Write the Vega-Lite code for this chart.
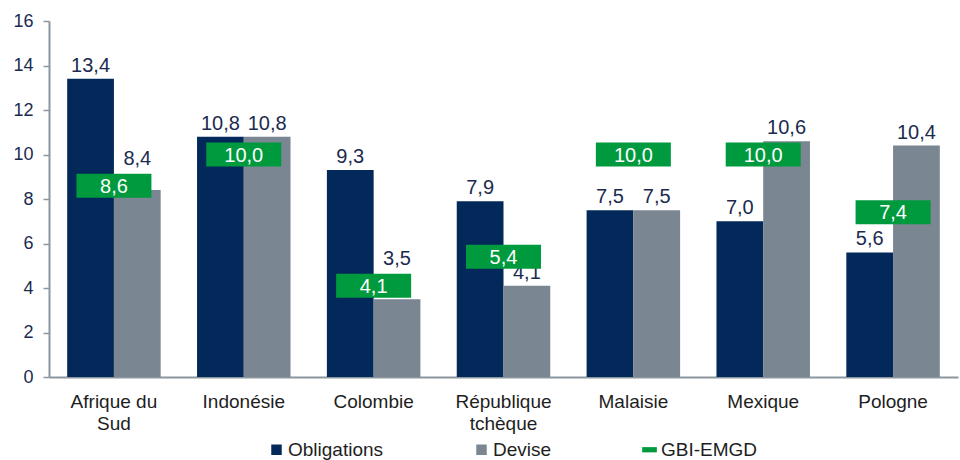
{
  "$schema": "https://vega.github.io/schema/vega-lite/v6.json",
  "width": 909,
  "height": 356,
  "autosize": {"type": "none"},
  "padding": {"left": 49, "top": 21, "right": 2, "bottom": 83},
  "background": "white",
  "config": {
    "locale": {"number": {"decimal": ",", "thousands": " ", "grouping": [3], "currency": ["", " €"]}},
    "font": "Liberation Sans",
    "view": {"stroke": null}
  },
  "data": {
    "values": [
      {"pays": "Afrique du Sud", "serie": "Obligations", "valeur": 13.4},
      {"pays": "Afrique du Sud", "serie": "Devise", "valeur": 8.4},
      {"pays": "Afrique du Sud", "serie": "GBI-EMGD", "valeur": 8.6},
      {"pays": "Indonésie", "serie": "Obligations", "valeur": 10.8},
      {"pays": "Indonésie", "serie": "Devise", "valeur": 10.8},
      {"pays": "Indonésie", "serie": "GBI-EMGD", "valeur": 10.0},
      {"pays": "Colombie", "serie": "Obligations", "valeur": 9.3},
      {"pays": "Colombie", "serie": "Devise", "valeur": 3.5},
      {"pays": "Colombie", "serie": "GBI-EMGD", "valeur": 4.1},
      {"pays": "République tchèque", "serie": "Obligations", "valeur": 7.9},
      {"pays": "République tchèque", "serie": "Devise", "valeur": 4.1},
      {"pays": "République tchèque", "serie": "GBI-EMGD", "valeur": 5.4},
      {"pays": "Malaisie", "serie": "Obligations", "valeur": 7.5},
      {"pays": "Malaisie", "serie": "Devise", "valeur": 7.5},
      {"pays": "Malaisie", "serie": "GBI-EMGD", "valeur": 10.0},
      {"pays": "Mexique", "serie": "Obligations", "valeur": 7.0},
      {"pays": "Mexique", "serie": "Devise", "valeur": 10.6},
      {"pays": "Mexique", "serie": "GBI-EMGD", "valeur": 10.0},
      {"pays": "Pologne", "serie": "Obligations", "valeur": 5.6},
      {"pays": "Pologne", "serie": "Devise", "valeur": 10.4},
      {"pays": "Pologne", "serie": "GBI-EMGD", "valeur": 7.4}
    ]
  },
  "encoding": {
    "x": {
      "field": "pays", "type": "nominal", "sort": null,
      "scale": {"paddingInner": 0.28, "paddingOuter": 0.14},
      "axis": {
        "title": null, "labelAngle": 0, "ticks": false,
        "domainColor": "#8C969F", "domainWidth": 2,
        "labelFontSize": 19, "labelColor": "#1E1E1E", "labelPadding": 15,
        "labelLineHeight": 22,
        "labelExpr": "datum.value == 'Afrique du Sud' ? ['Afrique du', 'Sud'] : datum.value == 'République tchèque' ? ['République', 'tchèque'] : datum.value"
      }
    },
    "y": {
      "field": "valeur", "type": "quantitative",
      "scale": {"domain": [0, 16], "nice": false},
      "axis": {
        "title": null, "grid": false, "values": [0, 2, 4, 6, 8, 10, 12, 14, 16],
        "format": "d",
        "domainColor": "#8C969F", "domainWidth": 2,
        "tickColor": "#8C969F", "tickSize": 6, "tickWidth": 1.5,
        "labelFontSize": 18, "labelColor": "#1B2B4F", "labelPadding": 10
      }
    }
  },
  "layer": [
    {
      "transform": [{"filter": "datum.serie != 'GBI-EMGD'"}],
      "mark": {"type": "bar"},
      "encoding": {
        "xOffset": {"field": "serie", "type": "nominal", "sort": ["Obligations", "Devise"]},
        "color": {
          "field": "serie", "type": "nominal",
          "scale": {"domain": ["Obligations", "Devise", "GBI-EMGD"], "range": ["#03285A", "#7A8691", "#009A3E"]},
          "legend": {
            "title": null, "orient": "none", "direction": "horizontal",
            "legendX": 218, "legendY": 419,
            "symbolType": "square", "symbolSize": 110, "symbolStrokeWidth": 0,
            "labelFontSize": 19, "labelColor": "#1E1E1E", "labelOffset": 2,
            "columnPadding": 88,
            "encode": {
              "symbols": {
                "update": {
                  "shape": {"signal": "datum.value === 'GBI-EMGD' ? 'M-1.4,-0.5H1.4V0.5H-1.4Z' : 'square'"}
                }
              }
            }
          }
        }
      }
    },
    {
      "transform": [
        {"calculate": "datum.serie == 'GBI-EMGD' ? datum.valeur : null", "as": "gbi_v"},
        {"joinaggregate": [{"op": "max", "field": "gbi_v", "as": "gbi"}], "groupby": ["pays"]},
        {"filter": "datum.serie != 'GBI-EMGD'"},
        {"calculate": "(datum.serie == 'Devise' && datum.gbi > datum.valeur && datum.gbi - datum.valeur < 1) ? datum.gbi + 0.6 : datum.valeur", "as": "lab"}
      ],
      "mark": {"type": "text", "baseline": "alphabetic", "dy": -7, "fontSize": 20, "color": "#1B2B4F"},
      "encoding": {
        "y": {"field": "lab", "type": "quantitative", "title": null},
        "xOffset": {"field": "serie", "type": "nominal", "sort": ["Obligations", "Devise"]},
        "text": {"field": "valeur", "type": "quantitative", "format": ".1f"}
      }
    },
    {
      "transform": [{"filter": "datum.serie == 'GBI-EMGD'"}],
      "mark": {"type": "tick", "size": 75, "thickness": 24, "opacity": 1},
      "encoding": {
        "color": {"field": "serie", "type": "nominal"}
      }
    },
    {
      "transform": [{"filter": "datum.serie == 'GBI-EMGD'"}],
      "mark": {"type": "text", "baseline": "middle", "fontSize": 20, "color": "white", "dy": 1},
      "encoding": {
        "text": {"field": "valeur", "type": "quantitative", "format": ".1f"}
      }
    }
  ]
}
